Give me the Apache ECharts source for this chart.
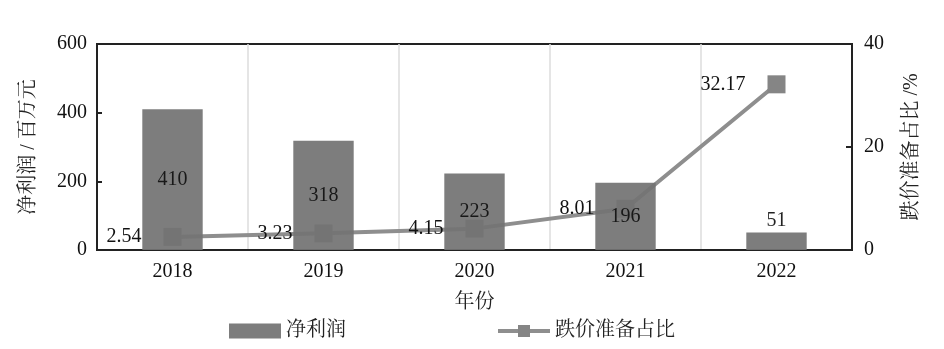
<!DOCTYPE html>
<html><head><meta charset="utf-8">
<script src="https://cdn.jsdelivr.net/npm/echarts@6/dist/echarts.min.js"></script>
<style>html,body{margin:0;padding:0;background:#fff}#c{width:944px;height:349px}</style>
</head><body><div id="c"></div>
<script>
var years = ['2018','2019','2020','2021','2022'];
var netProfit = [410, 318, 223, 196, 51];
var reserveRatio = [2.54, 3.23, 4.15, 8.01, 32.17];
var leftTicks = [0, 200, 400, 600];
var rightTicks = [0, 20, 40];

var FONT = '"Liberation Serif","Noto Serif CJK SC","Noto Sans CJK SC",serif';
var chart = echarts.init(document.getElementById('c'));
chart.setOption({
  animation: false,
  textStyle: {fontFamily: FONT, color: '#111'},
  grid: {left: 97, right: 92, top: 44, bottom: 99, show: true, borderColor: '#222', borderWidth: 2, backgroundColor: 'transparent'},
  legend: {
    left: 229, top: 321, padding: 0, itemGap: 150, itemWidth: 52, itemHeight: 15,
    textStyle: {fontFamily: FONT, fontSize: 20, color: '#222'},
    lineStyle: {width: 4},
    data: [{name: '净利润', icon: 'rect'}, {name: '跌价准备占比'}]
  },
  xAxis: {
    type: 'category', data: years,
    name: '年份', nameLocation: 'middle', nameGap: 43,
    nameTextStyle: {fontSize: 20, color: '#222', fontFamily: FONT},
    axisLine: {lineStyle: {color: '#222', width: 2}},
    axisTick: {show: false},
    axisLabel: {fontSize: 20, color: '#111', margin: 12, fontFamily: FONT},
    splitLine: {show: true, lineStyle: {color: '#dcdcdc', width: 1.5}}
  },
  yAxis: [{
    type: 'value', min: 0, max: 600, interval: 200,
    name: '净利润 / 百万元', nameLocation: 'middle', nameGap: 58, nameRotate: 90,
    nameTextStyle: {fontSize: 20, color: '#222', fontFamily: FONT},
    axisLine: {show: true, lineStyle: {color: '#222', width: 2}},
    axisTick: {show: true, inside: true, length: 5, lineStyle: {color: '#222', width: 2}},
    axisLabel: {fontSize: 20, color: '#111', margin: 10, fontFamily: FONT},
    splitLine: {show: false}
  }, {
    type: 'value', min: 0, max: 40, interval: 20, position: 'right',
    name: '跌价准备占比 /%', nameLocation: 'middle', nameGap: 50, nameRotate: 90,
    nameTextStyle: {fontSize: 20, color: '#222', fontFamily: FONT},
    axisLine: {show: true, lineStyle: {color: '#222', width: 2}},
    axisTick: {show: true, inside: true, length: 6, lineStyle: {color: '#222', width: 2}},
    axisLabel: {fontSize: 20, color: '#111', margin: 12, fontFamily: FONT},
    splitLine: {show: false}
  }],
  series: [{
    name: '跌价准备占比', type: 'line', yAxisIndex: 1,
    symbol: 'rect', symbolSize: 18,
    lineStyle: {color: '#8e8e8e', width: 4},
    itemStyle: {color: '#858585'},
    label: {show: true, position: 'left', distance: 22, fontSize: 20, color: '#111', fontFamily: FONT},
    data: reserveRatio,
    z: 2
  }, {
    name: '净利润', type: 'bar', barWidth: '40%', yAxisIndex: 0,
    itemStyle: {color: '#737373', opacity: 0.93},
    label: {show: true, position: 'inside', fontSize: 20, color: '#111', fontFamily: FONT},
    data: netProfit.map(function (v, i) {
      return i === netProfit.length - 1 ? {value: v, label: {position: 'top', distance: 2}} : v;
    }),
    z: 3
  }]
});
</script></body></html>
